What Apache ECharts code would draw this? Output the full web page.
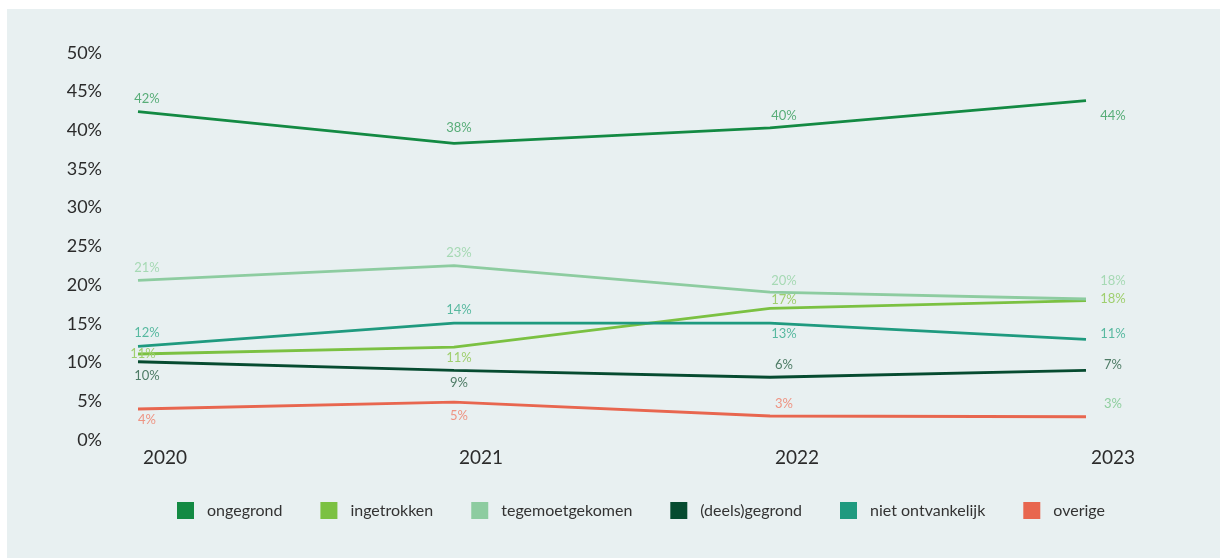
<!DOCTYPE html>
<html>
<head>
<meta charset="utf-8">
<script src="https://cdn.jsdelivr.net/npm/echarts@6/dist/echarts.min.js"></script>
<style>
  html, body { margin: 0; padding: 0; background: #ffffff; }
  .panel { position: absolute; left: 7px; top: 9px; width: 1213px; height: 549px; background: #e8f0f1; }
  #chart { position: absolute; left: 0; top: 0; width: 1229px; height: 558px; }
</style>
</head>
<body>
<div class="panel"></div>
<div id="chart"></div>
<script>
// jaren
const years = ["2020", "2021", "2022", "2023"]
const yTicks = [0, 5, 10, 15, 20, 25, 30, 35, 40, 45, 50]

// lijnwaarden (%)
const ongegrond = [42.4, 38.3, 40.3, 43.8]
const ingetrokken = [11.1, 12.0, 17.0, 18.0]
const tegemoetgekomen = [20.6, 22.5, 19.1, 18.2]
const deelsGegrond = [10.1, 9.0, 8.1, 9.0]
const nietOntvankelijk = [12.1, 15.1, 15.1, 13.0]
const overige = [4.0, 4.9, 3.1, 3.0]

// getoonde labels (%)
const ongegrondLabels = [42, 38, 40, 44]
const ingetrokkenLabels = [11, 11, 17, 18]
const tegemoetgekomenLabels = [21, 23, 20, 18]
const deelsGegrondLabels = [10, 9, 6, 7]
const nietOntvankelijkLabels = [12, 14, 13, 11]
const overigeLabels = [4, 5, 3, 3]

// label verschuiving per jaar (horizontaal)
const labelDx = [9, 5, 14, 27]

const seriesDefs = [
  { name: "ongegrond", data: ongegrond, labels: ongegrondLabels, color: "#138a43", labelColor: "#58ad78", dy: [-13, -16, -12, 15] },
  { name: "ingetrokken", data: ingetrokken, labels: ingetrokkenLabels, color: "#7bc142", labelColor: "#9fcf6e", dy: [0, 11, -9, -2], dx0: -4 },
  { name: "tegemoetgekomen", data: tegemoetgekomen, labels: tegemoetgekomenLabels, color: "#8dcca0", labelColor: "#a6d9b4", dy: [-13, -13, -11, -18] },
  { name: "(deels)gegrond", data: deelsGegrond, labels: deelsGegrondLabels, color: "#064b30", labelColor: "#4e7c66", dy: [14, 13, -12, -5] },
  { name: "niet ontvankelijk", data: nietOntvankelijk, labels: nietOntvankelijkLabels, color: "#1f9a7f", labelColor: "#58b9a0", dy: [-13, -13, 11, -5] },
  { name: "overige", data: overige, labels: overigeLabels, color: "#e8664f", labelColor: "#ee9483", dy: [11, 14, -12, -13], lastLabelColor: "#8fcf9f" },
]

const chart = echarts.init(document.getElementById("chart"))

const series = seriesDefs.map(s => ({
  name: s.name,
  type: "line",
  symbol: "circle",
  symbolSize: 0,
  lineStyle: { color: s.color, width: 2.8 },
  itemStyle: { color: s.color },
  emphasis: { disabled: true },
  label: {
    show: true,
    position: "inside",
    fontFamily: "Lato",
    fontSize: 13,
    color: s.labelColor,
  },
  data: s.data.map((v, i) => ({
    value: v,
    label: {
      formatter: s.labels[i] + "%",
      offset: [labelDx[i] + (i === 0 && s.dx0 ? s.dx0 : 0), s.dy[i]],
      color: i === 3 && s.lastLabelColor ? s.lastLabelColor : s.labelColor,
    },
  })),
}))

const option = {
  backgroundColor: "transparent",
  animation: false,
  grid: { left: 138, right: 143, top: 52.7, bottom: 118 },
  legend: {
    left: 172,
    top: 497,
    icon: "rect",
    itemWidth: 17,
    itemHeight: 17,
    itemGap: 38,
    textStyle: { fontFamily: "Lato", fontSize: 16, color: "#333333", padding: [0, 0, 0, 8] },
    data: seriesDefs.map(s => ({ name: s.name, itemStyle: { color: s.color } })),
  },
  xAxis: {
    type: "category",
    data: years,
    boundaryGap: false,
    axisLine: { show: false },
    axisTick: { show: false },
    axisLabel: {
      fontFamily: "Lato",
      fontSize: 19,
      color: "#2b2b2b",
      margin: 8,
      padding: [0, 0, 0, 54],
    },
  },
  yAxis: {
    type: "value",
    min: yTicks[0],
    max: yTicks[yTicks.length - 1],
    interval: 5,
    splitLine: { show: false },
    axisLine: { show: false },
    axisTick: { show: false },
    axisLabel: {
      fontFamily: "Lato",
      fontSize: 18,
      color: "#2b2b2b",
      margin: 36,
      formatter: "{value}%",
    },
  },
  series,
}

chart.setOption(option)
</script>
</body>
</html>
